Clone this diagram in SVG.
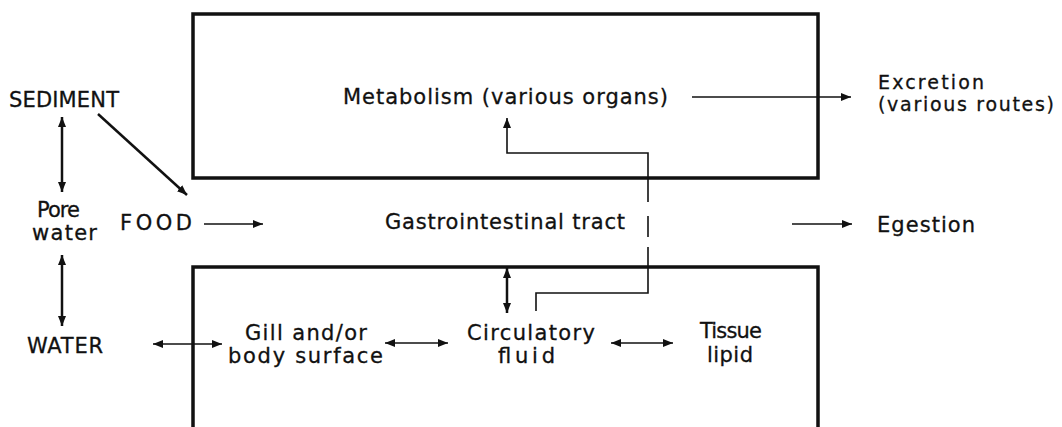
<svg xmlns="http://www.w3.org/2000/svg" width="1062" height="427" viewBox="0 0 1062 427">
<style>
text{font-family:"DejaVu Sans","Liberation Sans",sans-serif;font-size:21px;fill:#111;stroke:#111;stroke-width:0.3}
.sm{font-size:19px}
.box{fill:none;stroke:#111;stroke-width:3.5}
.c{fill:none;stroke:#111;stroke-width:1.6}
.t{fill:none;stroke:#111;stroke-width:2.5}
</style>
<defs>
<marker id="ah" viewBox="0 0 10 8" refX="10" refY="4" markerWidth="10" markerHeight="8" markerUnits="userSpaceOnUse" orient="auto-start-reverse">
<path d="M0,0 L10,4 L0,8 Z" fill="#111"/>
</marker>
</defs>
<rect width="1062" height="427" fill="#fff"/>
<g id="organism-top"><rect class="box" x="193" y="14" width="625" height="164"/></g>
<g id="organism-bottom"><path class="box" d="M193,430 V267 H818 V430"/></g>
<g id="sediment"><text x="9" y="107" textLength="110">SEDIMENT</text></g>
<g id="porewater"><text x="37" y="217" textLength="43">Pore</text><text x="32" y="240" textLength="65">water</text></g>
<g id="food"><text x="120" y="230" textLength="72">FOOD</text></g>
<g id="water"><text x="27" y="353" textLength="76">WATER</text></g>
<g id="metabolism"><text x="343" y="104" textLength="325">Metabolism (various organs)</text></g>
<g id="excretion"><text class="sm" x="878" y="89" textLength="106">Excretion</text><text class="sm" x="878" y="111" textLength="176">(various routes)</text></g>
<g id="gi-tract"><text x="385" y="229" textLength="240">Gastrointestinal tract</text></g>
<g id="egestion"><text x="877" y="232" textLength="98">Egestion</text></g>
<g id="gill"><text x="245" y="340" textLength="122">Gill and/or</text><text x="228" y="363" textLength="155">body surface</text></g>
<g id="circulatory"><text x="467" y="340" textLength="128">Circulatory</text><text x="498" y="363" textLength="57">fluid</text></g>
<g id="tissue"><text x="700" y="338" textLength="62">Tissue</text><text x="707" y="362" textLength="46">lipid</text></g>
<g id="connectors">
<line class="t" x1="62" y1="117" x2="62" y2="192" marker-start="url(#ah)" marker-end="url(#ah)"/>
<line class="t" x1="98" y1="114" x2="187" y2="195" marker-end="url(#ah)"/>
<line class="t" x1="62" y1="255" x2="62" y2="326" marker-start="url(#ah)" marker-end="url(#ah)"/>
<line class="c" x1="204" y1="224" x2="263" y2="224" marker-end="url(#ah)"/>
<line class="c" x1="153" y1="344" x2="222" y2="344" marker-start="url(#ah)" marker-end="url(#ah)"/>
<line class="c" x1="385" y1="343" x2="448" y2="343" marker-start="url(#ah)" marker-end="url(#ah)"/>
<line class="c" x1="611" y1="343" x2="673" y2="343" marker-start="url(#ah)" marker-end="url(#ah)"/>
<line class="c" x1="692" y1="97" x2="851" y2="97" marker-end="url(#ah)"/>
<line class="c" x1="792" y1="224" x2="852" y2="224" marker-end="url(#ah)"/>
<line class="t" x1="507" y1="268" x2="507" y2="313" marker-start="url(#ah)" marker-end="url(#ah)"/>
<path class="c" d="M536,311 V293 H648 V247"/>
<path class="c" d="M648,237 V216"/>
<path class="c" d="M648,202 V153 H507 V118" marker-end="url(#ah)"/>
</g>
</svg>
